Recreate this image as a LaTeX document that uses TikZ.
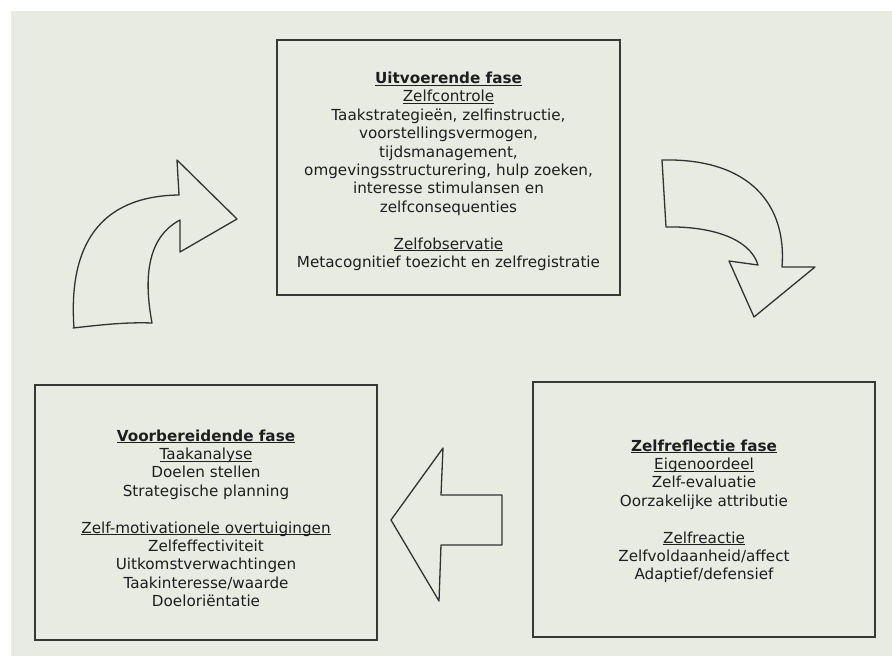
\documentclass[tikz,border=0pt]{standalone}
\usepackage{fontspec}
\setmainfont{DejaVu Sans}
\definecolor{bgc}{RGB}{232,235,226}
\definecolor{boxc}{RGB}{55,57,52}
\definecolor{txtc}{RGB}{30,30,30}
\definecolor{arrc}{RGB}{50,50,48}
\newcommand{\ulx}[1]{\underline{\smash{#1}}}
\begin{document}
\begin{tikzpicture}[x=1pt,y=-1pt,
  box/.style={draw=boxc, line width=1.8pt, inner sep=0pt},
  txt/.style={align=center, text=txtc, font=\fontsize{15.2}{18.4}\selectfont, inner sep=0pt},
  bigarrow/.style={draw=arrc, line width=1.3pt, line join=round}]
\useasboundingbox (0,0) rectangle (892,656);
\fill[bgc] (11,11) rectangle (892,656);

% boxes
\node[box, minimum width=343pt, minimum height=255pt] (top) at (448.5,167.5) {};
\node[box, minimum width=342pt, minimum height=255pt] (left) at (206,512.5) {};
\node[box, minimum width=342pt, minimum height=255pt] (right) at (704,509.5) {};

% texts
\node[txt] (toptxt) at (448.5,177) {\textbf{\ulx{Uitvoerende fase}}\\
\ulx{Zelfcontrole}\\
Taakstrategieën, zelfinstructie,\\
voorstellingsvermogen,\\
tijdsmanagement,\\
omgevingsstructurering, hulp zoeken,\\
interesse stimulansen en\\
zelfconsequenties\\[18.4pt]
\ulx{Zelfobservatie}\\
Metacognitief toezicht en zelfregistratie};

\node[txt] (lefttxt) at (206,524) {\textbf{\ulx{Voorbereidende fase}}\\
\ulx{Taakanalyse}\\
Doelen stellen\\
Strategische planning\\[18.4pt]
\ulx{Zelf-motivationele overtuigingen}\\
Zelfeffectiviteit\\
Uitkomstverwachtingen\\
Taakinteresse/waarde\\
Doeloriëntatie};

\node[txt] (righttxt) at (704,517) {\textbf{\ulx{Zelfreflectie fase}}\\
\ulx{Eigenoordeel}\\
Zelf-evaluatie\\
Oorzakelijke attributie\\[18.4pt]
\ulx{Zelfreactie}\\
Zelfvoldaanheid/affect\\
Adaptief/defensief};

% curved arrow (left, pointing right)
\draw[bigarrow] (73,328) .. controls (100,325) and (125,322) .. (152,323)
  .. controls (144,280) and (146,238) .. (180,220)
  -- (180,252) -- (237,219) -- (177,160) -- (179,195)
  .. controls (100,196) and (68,245) .. (74,328) -- cycle;

% curved arrow (right, pointing down)
\draw[bigarrow] (662,160) .. controls (750,158) and (787,205) .. (782,267)
  -- (815,267) -- (754,317) -- (729,261) -- (758,265)
  .. controls (750,238) and (710,226) .. (666,227) -- cycle;

% straight arrow (pointing left)
\draw[bigarrow] (391,520) -- (443,448) -- (441,495) -- (502,495)
  -- (502,545) -- (441,545) -- (439,601) -- cycle;
\end{tikzpicture}
\end{document}
